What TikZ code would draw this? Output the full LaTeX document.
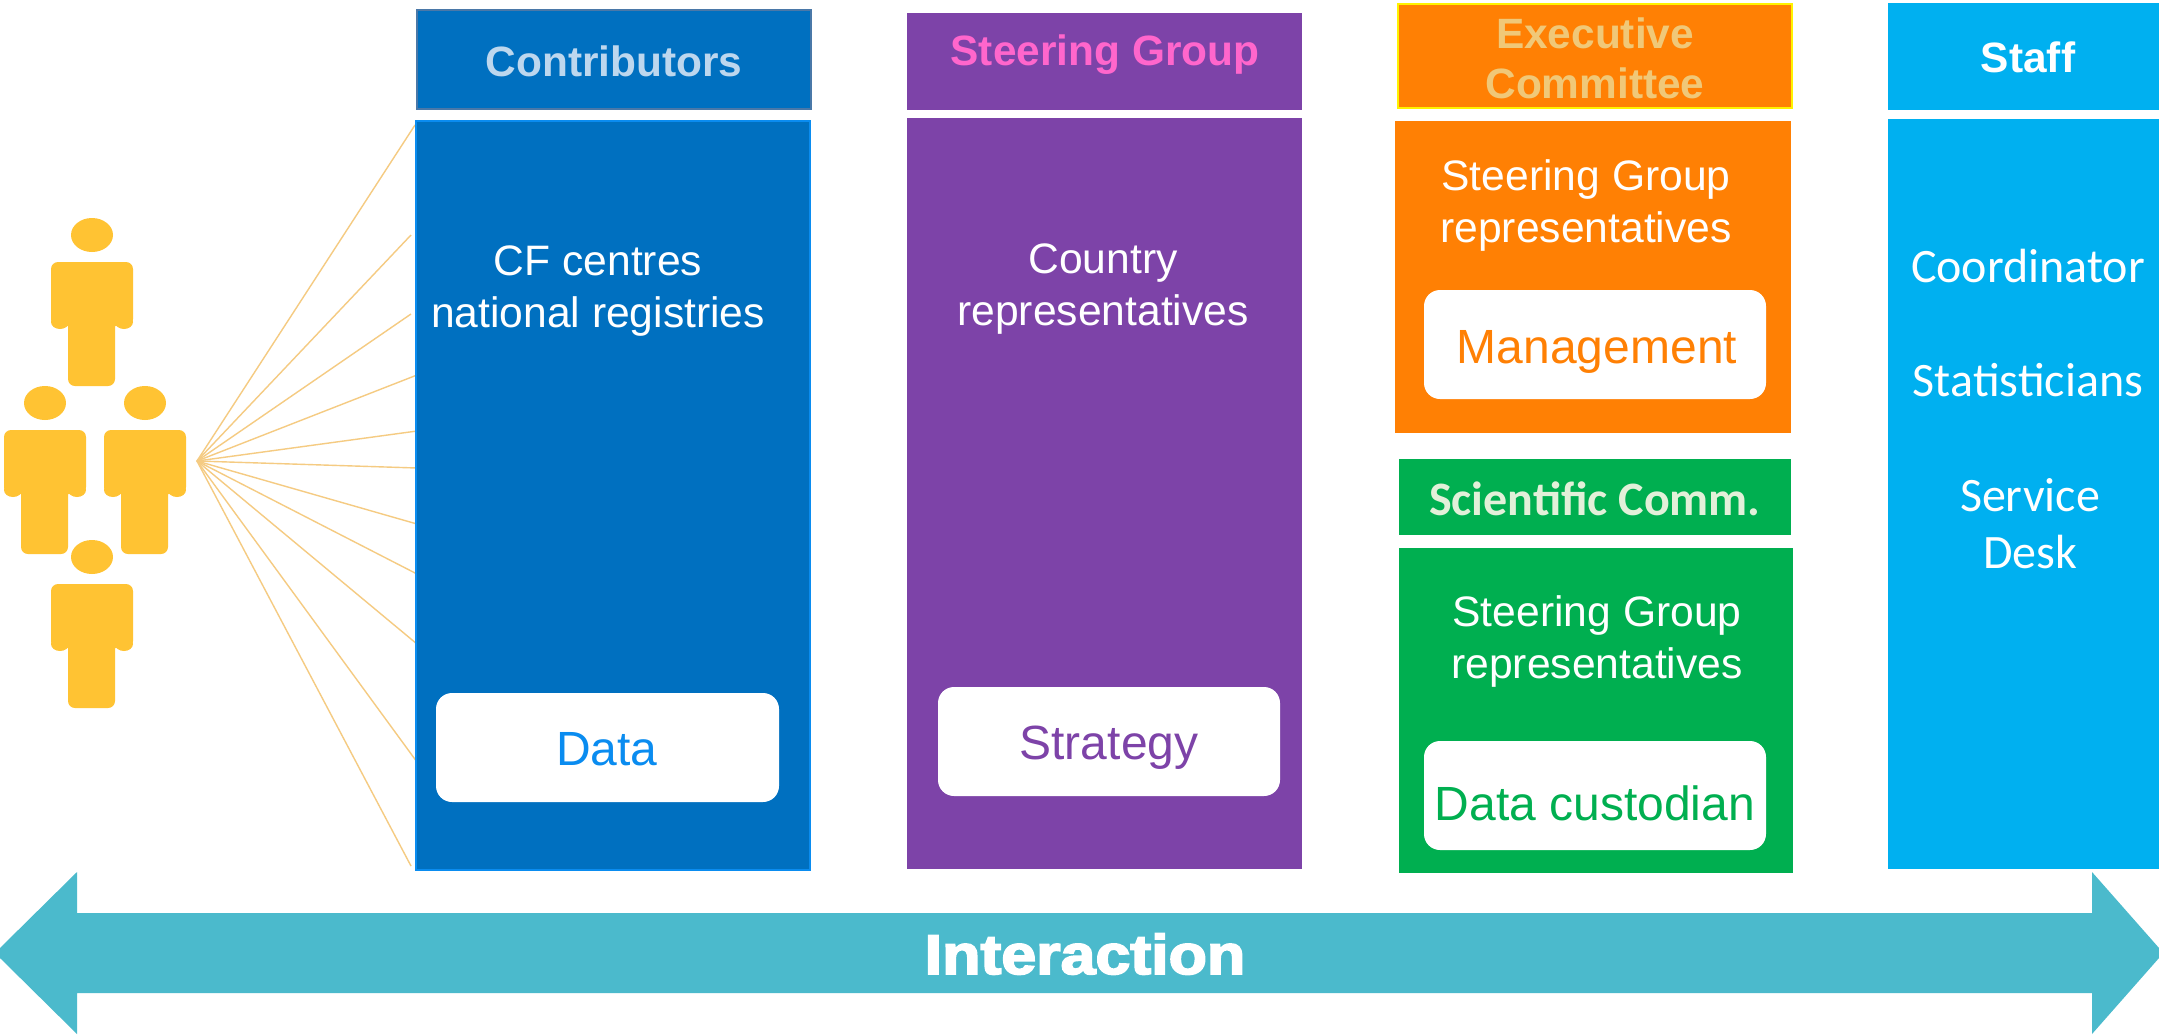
\documentclass[tikz,border=0pt]{standalone}
\usepackage{fontspec}
\setmainfont{Liberation Sans}
\newfontfamily\calib{Carlito}
\newfontfamily\heavy[FakeBold=3]{Liberation Sans Bold}
\definecolor{cblue}{HTML}{0070C0}
\definecolor{cblueedge}{HTML}{0A8CF0}
\definecolor{cblueline}{HTML}{4A78A8}
\definecolor{cpurple}{HTML}{7D43A8}
\definecolor{corange}{HTML}{FF8004}
\definecolor{cgreen}{HTML}{00AF50}
\definecolor{ccyan}{HTML}{00B0F0}
\definecolor{cteal}{HTML}{4BBACC}
\definecolor{cpeople}{HTML}{FFC333}
\definecolor{cspoke}{HTML}{F5CB82}
\definecolor{tblue}{HTML}{BDD7EE}
\definecolor{tpink}{HTML}{FF66CC}
\definecolor{tgold}{HTML}{F0C878}
\definecolor{tgreen}{HTML}{E2F0D9}
\tikzset{
  x=0.5pt,y=-0.5pt,
  psize/.style 2 args={minimum width=#1*0.5pt,minimum height=#2*0.5pt},
  panel/.style={rectangle,inner sep=0pt,outer sep=0pt,anchor=north west,align=center},
  pill/.style={rectangle,rounded corners=8pt,fill=white,inner sep=0pt,outer sep=0pt,anchor=north west},
  pilltext/.style={font=\fontsize{24}{28}\selectfont,inner sep=0pt},
  head/.style={font=\bfseries\fontsize{21.2}{27}\selectfont,inner sep=0pt,align=center},
  body/.style={font=\fontsize{21.3}{26}\selectfont,text=white,inner sep=0pt,align=center},
  staff/.style={font=\calib\fontsize{24}{28.5}\selectfont,text=white,inner sep=0pt,align=center},
  spoke/.style={draw=cspoke,line width=0.7pt},
  person/.style={fill=cpeople}
}
\newcommand{\personat}[2]{%
  \begin{scope}[shift={(#1,#2)}]
    \fill[person] (92,235) ellipse [x radius=10.5pt,y radius=8.5pt];
    \fill[person,rounded corners=3.5pt] (51,262) rectangle (133,326);
    \fill[person] (60,322) ellipse [x radius=4.5pt,y radius=3.5pt];
    \fill[person] (124,322) ellipse [x radius=4.5pt,y radius=3.5pt];
    \fill[person,rounded corners=3.5pt] (68,300) rectangle (115,386);
  \end{scope}}
\begin{document}
\begin{tikzpicture}
\useasboundingbox (0,0) rectangle (2159,1035);
\fill[white] (0,0) rectangle (2159,1035);
% people
\personat{0}{0}\personat{-47}{168}\personat{53}{168}\personat{0}{322}
% spokes
\coordinate (hub) at (197,461);
\foreach \i/\x/\y in {1/415/125,2/411/235,3/411/314,4/417/375,5/417/431,6/417/468,7/417/524,8/417/574,9/417/644,10/417/762,11/411/866}{
  \coordinate (e\i) at (\x,\y);
  \draw[spoke] (hub) -- (e\i);
}
% contributors
\node[panel,fill=cblue,draw=cblueline,line width=1pt,psize={394}{99}] (conH) at (417,10) {};
\node[head,text=tblue] (conT) at (614,61) {Contributors};
\node[panel,fill=cblue,draw=cblueedge,line width=1.2pt,psize={394}{749}] (conB) at (416,121) {};
\node[body] (conX) at (598,291) {CF centres\\national registries};
\node[pill,psize={343}{109}] (data) at (436,693) {};
\node[pilltext,text=cblueedge] (dataT) at (607,749) {Data};
% steering
\node[panel,fill=cpurple,psize={395}{97}] (steH) at (907,13) {};
\node[head,text=tpink] (steT) at (1105,55) {Steering Group};
\node[panel,fill=cpurple,psize={395}{751}] (steB) at (907,118) {};
\node[body] (steX) at (1103,289) {Country\\representatives};
\node[pill,psize={342}{109}] (strat) at (938,687) {};
\node[pilltext,text=cpurple] (stratT) at (1109,748) {Strategy};
% executive
\node[panel,fill=corange,draw=yellow,line width=1.2pt,psize={394}{104}] (exeH) at (1398,4) {};
\node[head,text=tgold,font=\bfseries\fontsize{21.2}{25}\selectfont] (exeT) at (1595,58) {Executive\\Committee};
\node[panel,fill=corange,psize={396}{312}] (exeB) at (1395,121) {};
\node[body] (exeX) at (1586,205) {Steering Group\\representatives};
\node[pill,psize={342}{109}] (mgmt) at (1424,290) {};
\node[pilltext,text=corange] (mgmtT) at (1597,352) {Management};
% scientific
\node[panel,fill=cgreen,psize={392}{76}] (sciH) at (1399,459) {};
\node[head,font=\calib\bfseries\fontsize{24}{27}\selectfont,text=tgreen] (sciT) at (1595,499) {Scientific Comm.};
\node[panel,fill=cgreen,psize={394}{325}] (sciB) at (1399,548) {};
\node[body] (sciX) at (1597,641) {Steering Group\\representatives};
\node[pill,psize={342}{109}] (cust) at (1424,741) {};
\node[pilltext,text=cgreen] (custT) at (1595,803) {Data custodian};
% staff
\node[panel,fill=ccyan,psize={271}{107}] (staH) at (1888,3) {};
\node[head,text=white] (staT) at (2028,57) {Staff};
\node[panel,fill=ccyan,psize={271}{750}] (staB) at (1888,119) {};
\node[staff] (sta1) at (2028,266) {Coordinator};
\node[staff] (sta2) at (2028,380) {Statisticians};
\node[staff] (sta3) at (2030,524) {Service\\Desk};
% arrow
\fill[cteal] (0,948) -- (77,872) -- (77,913) -- (2092,913) -- (2092,872) -- (2159,948) -- (2159,958) -- (2092,1034) -- (2092,993) -- (77,993) -- (77,1034) -- (0,958) -- cycle;
\node[inner sep=0pt,text=white,font=\heavy\fontsize{28}{30}\selectfont,xscale=1.12] (inter) at (1085,954) {Interaction};
\end{tikzpicture}
\end{document}
